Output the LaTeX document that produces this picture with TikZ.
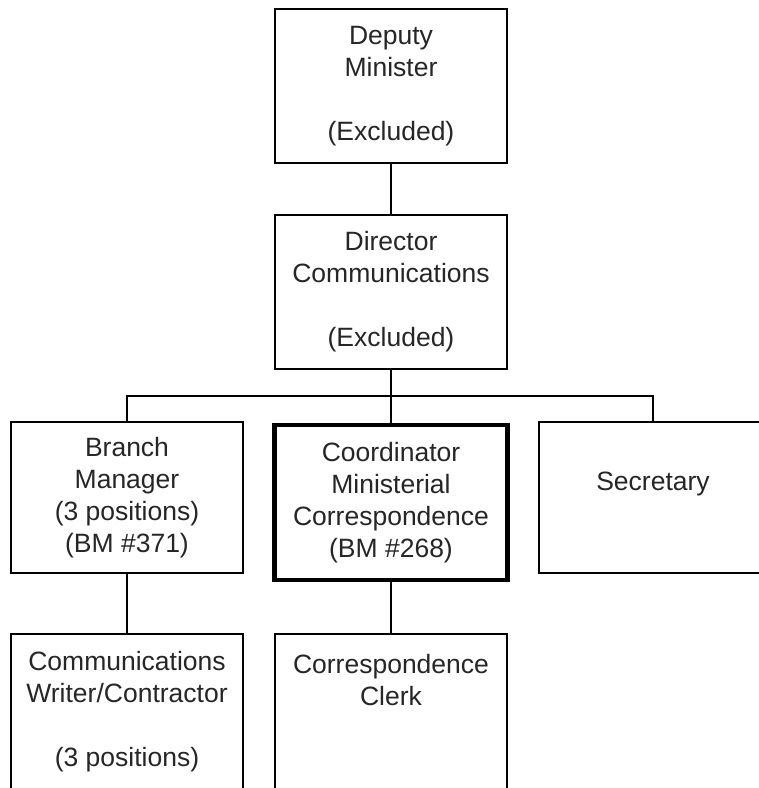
\documentclass[tikz,border=0pt]{standalone}
\usepackage{fontspec}
\setmainfont{Liberation Sans}
\begin{document}
\begin{tikzpicture}[x=1pt,y=-1pt,
  box/.style={draw=black, line width=1.3pt, rectangle, inner sep=0pt, align=center,
    font=\fontsize{26.5}{32}\selectfont, text=black!85},
  thickbox/.style={box, line width=4.5pt},
  conn/.style={draw=black, line width=1.3pt}]
\useasboundingbox (0,0) rectangle (759,788);
\clip (0,0) rectangle (759,788);
\fill[white] (0,0) rectangle (759,788);
\node[box, minimum width=232pt, minimum height=154pt] (dm) at (391,86) {Deputy\\Minister\\~\\(Excluded)};
\node[box, minimum width=232pt, minimum height=154pt] (dc) at (391,292) {Director\\Communications\\~\\(Excluded)};
\node[box, minimum width=232pt, minimum height=151pt] (bm) at (127,497.5) {Branch\\Manager\\(3 positions)\\(BM \#371)};
\node[thickbox, minimum width=233pt, minimum height=155pt] (co) at (391,502.5) {Coordinator\\Ministerial\\Correspondence\\(BM \#268)};
\node[box, minimum width=228pt, minimum height=151pt] (se) at (653,497.5) {Secretary\\~};
\node[box, minimum width=232pt, minimum height=156pt] (cw) at (127,712) {Communications\\Writer/Contractor\\~\\(3 positions)};
\node[box, minimum width=232pt, minimum height=156pt] (cc) at (391,712) {Correspondence\\Clerk\\~\\~};
\coordinate (bus) at (391,396);
\draw[conn] (dm.south) -- (dc.north);
\draw[conn] (dc.south) -- (bus);
\draw[conn] (bm.north) |- (bus) -| (se.north);
\draw[conn] (bus) -- (co.north);
\draw[conn] (bm.south) -- (cw.north);
\draw[conn] (co.south) -- (cc.north);
\end{tikzpicture}
\end{document}
